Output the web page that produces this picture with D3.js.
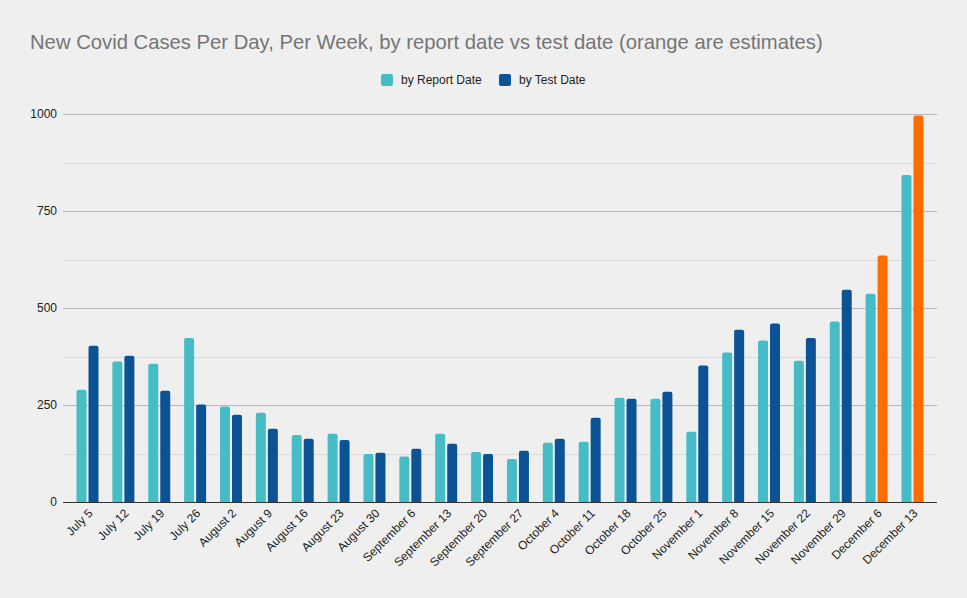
<!DOCTYPE html>
<html>
<head>
<meta charset="utf-8">
<script src="https://cdn.jsdelivr.net/npm/d3@7"></script>
<style>
  body { margin: 0; background: #efefef; }
  svg { display: block; }
</style>
</head>
<body>
<script>
const weeks = ['July 5','July 12','July 19','July 26','August 2','August 9','August 16','August 23','August 30',
  'September 6','September 13','September 20','September 27','October 4','October 11','October 18','October 25',
  'November 1','November 8','November 15','November 22','November 29','December 6','December 13']
const byReport = [289,362,356,423,246,230,173,176,124,117,176,129,111,153,155,269,266,181,385,416,364,465,537,843]
const byTest = [403,377,287,251,225,189,163,160,127,137,150,124,132,163,217,266,284,352,444,460,423,547,635,996]
// last two test-date values are estimates
const estimated = [false,false,false,false,false,false,false,false,false,false,false,false,false,false,false,false,false,false,false,false,false,false,true,true]
const series = ['by Report Date','by Test Date']
const yTicks = [0,250,500,750,1000]
const yMinor = [125,375,625,875]

const W = 967, H = 598
const margin = {top: 114, right: 30, bottom: 96, left: 63}
const colors = {report: '#46bdc6', test: '#0b5394', est: '#ff6d01'}
const font = 'Liberation Sans, Arial, sans-serif'

const svg = d3.select('body').append('svg')
  .attr('width', W)
  .attr('height', H)
  .style('background', '#efefef')

const x0 = d3.scaleBand()
  .domain(weeks)
  .range([margin.left, W - margin.right])
  .paddingInner(0.387)
  .paddingOuter(0.377)

const x1 = d3.scaleBand()
  .domain(series)
  .range([0, x0.bandwidth()])
  .paddingInner(0.167)

const y = d3.scaleLinear()
  .domain([0, 1000])
  .range([H - margin.bottom, margin.top])

// grid
svg.selectAll('.minor')
  .data(yMinor)
  .enter()
  .append('line')
  .attr('x1', margin.left)
  .attr('x2', W - margin.right)
  .attr('y1', d => Math.round(y(d)) + 0.5)
  .attr('y2', d => Math.round(y(d)) + 0.5)
  .attr('stroke', '#dadada')

svg.selectAll('.major')
  .data(yTicks.slice(1))
  .enter()
  .append('line')
  .attr('x1', margin.left)
  .attr('x2', W - margin.right)
  .attr('y1', d => Math.round(y(d)) + 0.5)
  .attr('y2', d => Math.round(y(d)) + 0.5)
  .attr('stroke', '#b7b7b7')

// y labels
svg.selectAll('.ylab')
  .data(yTicks)
  .enter()
  .append('text')
  .attr('x', margin.left - 6)
  .attr('y', d => y(d) + 4)
  .attr('text-anchor', 'end')
  .attr('font-family', font)
  .attr('font-size', 12)
  .attr('fill', '#222')
  .text(d => d)

// bars with rounded top
const barPath = (x, w, yTop, yBase, r) => {
  r = Math.min(r, yBase - yTop)
  return `M${x},${yBase}V${yTop + r}Q${x},${yTop} ${x + r},${yTop}H${x + w - r}Q${x + w},${yTop} ${x + w},${yTop + r}V${yBase}Z`
}

const rows = weeks.map((w, i) => ({week: w, vals: [
  {s: series[0], v: byReport[i], c: colors.report},
  {s: series[1], v: byTest[i], c: estimated[i] ? colors.est : colors.test}
]}))

const groups = svg.selectAll('.grp')
  .data(rows)
  .enter()
  .append('g')
  .attr('transform', d => `translate(${x0(d.week)},0)`)

groups.selectAll('path')
  .data(d => d.vals)
  .enter()
  .append('path')
  .attr('d', d => barPath(x1(d.s), x1.bandwidth(), y(d.v), y(0), 2))
  .attr('fill', d => d.c)

// baseline
svg.append('line')
  .attr('x1', margin.left)
  .attr('x2', W - margin.right)
  .attr('y1', y(0) + 0.5)
  .attr('y2', y(0) + 0.5)
  .attr('stroke', '#333')

// x labels
svg.selectAll('.xlab')
  .data(weeks)
  .enter()
  .append('text')
  .attr('transform', d => `translate(${x0(d) + x0.bandwidth() / 2 + 6},${y(0) + 12}) rotate(-45)`)
  .attr('text-anchor', 'end')
  .attr('font-family', font)
  .attr('font-size', 12)
  .attr('fill', '#222')
  .text(d => d)

// title
svg.append('text')
  .attr('x', 30)
  .attr('y', 49)
  .attr('font-family', font)
  .attr('font-size', 20.25)
  .attr('fill', '#757575')
  .text('New Covid Cases Per Day, Per Week, by report date vs test date (orange are estimates)')

// legend
const legend = [{label: series[0], c: colors.report, x: 381}, {label: series[1], c: colors.test, x: 499}]
const lg = svg.selectAll('.lg')
  .data(legend)
  .enter()
  .append('g')
  .attr('transform', d => `translate(${d.x},74)`)
lg.append('rect')
  .attr('width', 12)
  .attr('height', 12)
  .attr('rx', 2)
  .attr('fill', d => d.c)
lg.append('text')
  .attr('x', 20)
  .attr('y', 10)
  .attr('font-family', font)
  .attr('font-size', 12)
  .attr('fill', '#222')
  .text(d => d.label)
</script>
</body>
</html>
